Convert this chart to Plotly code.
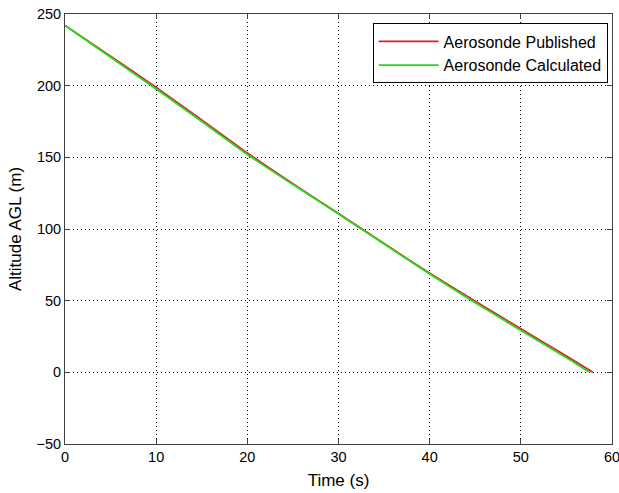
import plotly.graph_objects as go

# Data
t_pub = [0, 5, 10, 15, 20, 25, 30, 35, 40, 45, 50, 55, 57.9]
alt_pub = [242, 220.5, 198.8, 176, 153, 131.5, 110.8, 89.8, 69.2, 49.6, 30.4, 11.3, 0]
t_calc = [0, 5, 10, 15, 20, 25, 30, 35, 40, 45, 50, 55, 57.55]
alt_calc = [242, 219.8, 197.6, 175, 152, 131, 110.5, 89.5, 68.6, 48.6, 29.2, 10.2, 0]

x_ticks = [0, 10, 20, 30, 40, 50, 60]
y_ticks = [-50, 0, 50, 100, 150, 200, 250]

fig = go.Figure()
fig.add_trace(go.Scatter(x=t_pub, y=alt_pub, mode="lines", name="Aerosonde Published",
                         line=dict(color="#e02020", width=1.8, shape="spline", smoothing=0.6)))
fig.add_trace(go.Scatter(x=t_calc, y=alt_calc, mode="lines", name="Aerosonde Calculated",
                         line=dict(color="#22dd22", width=1.8, shape="spline", smoothing=0.6)))

axis_common = dict(
    showline=True, linecolor="#404040", linewidth=1, mirror="ticks",
    ticks="inside", ticklen=5, tickcolor="#404040",
    showgrid=True, gridcolor="black", griddash="1px,3px", gridwidth=1,
    zeroline=False, ticklabeloverflow="allow", automargin=False,
    tickfont=dict(family="Liberation Sans, Arial", size=14.5, color="black"),
)

fig.update_layout(
    width=619, height=493,
    margin=dict(l=65, r=7, t=14, b=49),
    paper_bgcolor="white", plot_bgcolor="white",
    font=dict(family="Liberation Sans, Arial", size=14, color="black"),
    xaxis=dict(range=[0, 60], tickvals=x_ticks, title=dict(text="Time (s)", standoff=9), **axis_common),
    yaxis=dict(range=[-50, 250], tickvals=y_ticks, title=dict(text="Altitude AGL (m)", standoff=10), **axis_common),
    legend=dict(x=0.992, y=0.978, xanchor="right", yanchor="top",
                bgcolor="white", bordercolor="black", borderwidth=1,
                font=dict(size=16), tracegroupgap=0, itemwidth=60),
    showlegend=True,
)

fig.write_html("out.html")
